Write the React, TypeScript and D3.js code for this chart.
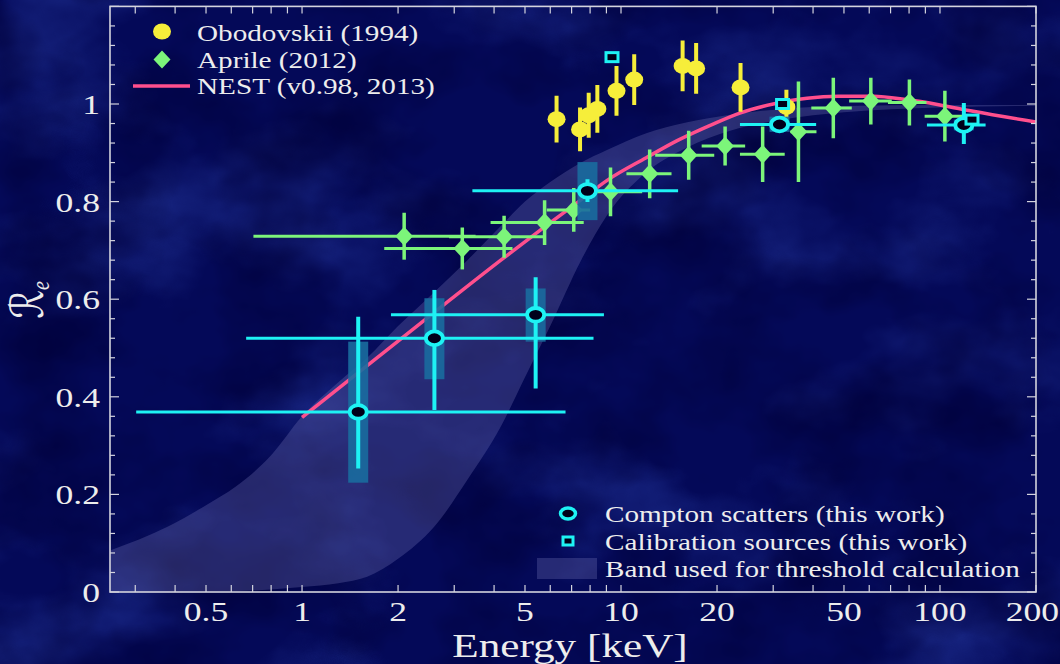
import React from "react";
import * as d3 from "d3";

// ---- Obodovskii (1994): energy [keV], Re, symmetric error ----
const obodovskiiE = [6.28, 7.44, 7.92, 8.43, 9.68, 11.0, 15.6, 17.2, 23.7, 33.0];
const obodovskiiRe = [0.969, 0.948, 0.977, 0.99, 1.027, 1.05, 1.078, 1.073, 1.034, 0.994];
const obodovskiiErr = [0.048, 0.045, 0.046, 0.049, 0.051, 0.052, 0.052, 0.052, 0.05, 0.035];

// ---- Aprile (2012): energy, energy range, Re, error ----
const aprileE = [2.09, 3.18, 4.3, 5.76, 7.11, 9.27, 12.3, 16.3, 21.2, 27.8, 36.0, 46.3, 60.7, 80.2, 103.6];
const aprileElo = [0.704, 1.81, 2.89, 3.9, 5.85, 7.8, 10.4, 12.8, 17.9, 23.6, 34.0, 39.5, 51.9, 68.7, 89.5];
const aprileEhi = [3.5, 4.57, 5.73, 7.64, 8.0, 11.65, 14.4, 19.6, 24.5, 32.6, 41.0, 52.9, 70.6, 90.7, 119.6];
const aprileRe = [0.729, 0.704, 0.728, 0.757, 0.783, 0.82, 0.857, 0.895, 0.914, 0.897, 0.943, 0.992, 1.006, 1.003, 0.975];
const aprileErr = [0.048, 0.043, 0.043, 0.046, 0.045, 0.05, 0.05, 0.05, 0.04, 0.057, 0.103, 0.062, 0.048, 0.047, 0.052];

// ---- Compton scatters (this work) ----
const comptonE = [1.5, 2.6, 5.4, 7.85, 31.4, 118.8];
const comptonElo = [0.302, 0.668, 1.9, 3.42, 23.6, 91.0];
const comptonEhi = [6.7, 8.2, 8.84, 15.1, 40.9, 139.0];
const comptonRe = [0.369, 0.52, 0.568, 0.822, 0.958, 0.957];
const comptonStatLo = [0.253, 0.373, 0.417, 0.799, 0.945, 0.918];
const comptonStatHi = [0.564, 0.619, 0.645, 0.846, 0.97, 1.002];
const comptonSysLo = [0.224, 0.436, 0.513, 0.762, 0.943, 0.946];
const comptonSysHi = [0.513, 0.602, 0.622, 0.881, 0.974, 0.968];

// ---- Calibration sources (this work) ----
const calibE = [9.37, 32.1, 126.0];
const calibRe = [1.096, 1.0, 0.968];

// ---- NEST (v0.98, 2013) ----
const nestE = [1.0, 1.6, 2.93, 4.2, 5.76, 7.47, 9.07, 12, 15, 19.6, 23.7, 30, 38.3, 48, 61.7, 78.6, 100, 127, 200];
const nestRe = [0.358, 0.464, 0.6, 0.68, 0.748, 0.803, 0.844, 0.89, 0.925, 0.96, 0.982, 1.0, 1.012, 1.016, 1.016, 1.009, 0.998, 0.985, 0.963];

// ---- Band used for threshold calculation ----
const bandE = [0.25, 0.38, 0.5, 0.62, 0.8, 1.0, 1.3, 1.6, 2.0, 2.6, 3.3, 4.2, 5.0, 6.0, 7.5, 9.0, 12, 16, 22, 32, 50, 100, 200];
const bandLow = [0, 0, 0.001, 0.002, 0.005, 0.01, 0.018, 0.031, 0.068, 0.134, 0.23, 0.339, 0.44, 0.545, 0.68, 0.77, 0.86, 0.91, 0.945, 0.968, 0.983, 0.993, 0.996];
const bandHigh = [0.085, 0.134, 0.178, 0.216, 0.28, 0.36, 0.43, 0.48, 0.545, 0.615, 0.68, 0.75, 0.8, 0.84, 0.88, 0.905, 0.94, 0.962, 0.978, 0.99, 0.996, 0.998, 0.998];

// ---- Axis ticks ----
const xTickLabels = [0.5, 1, 2, 5, 10, 20, 50, 100, 200];
const xMinorTicks = [0.3, 0.4, 0.6, 0.7, 0.8, 0.9, 3, 4, 6, 7, 8, 9, 30, 40, 60, 70, 80, 90];
const yTickLabels = [0, 0.2, 0.4, 0.6, 0.8, 1];

const W = 1060;
const H = 664;
const L = 110;
const R = 1036;
const T = 6.4;
const B = 592;
const SX = 1.27; // horizontal text stretch

const YELLOW = "#f6ee3a";
const GREEN = "#7cf57a";
const CYAN = "#1ef2f4";
const PINK = "#ff4f8d";
const TEXT = "#ededed";
const FRAME = "#d4d4de";
const BAND = "rgb(130,128,195)";
const SERIF = "'Liberation Serif','Times New Roman',serif";

function SText(props: any) {
  const { x, y, size, anchor = "start", children } = props;
  return (
    <text
      transform={`translate(${x},${y}) scale(${SX},1)`}
      textAnchor={anchor}
      fontSize={size}
      fill={TEXT}
      fontFamily={SERIF}
    >
      {children}
    </text>
  );
}

function diamondPath(cx: number, cy: number, hw = 8.8, hh = 9.5) {
  return `M${cx},${cy - hh}L${cx + hw},${cy}L${cx},${cy + hh}L${cx - hw},${cy}Z`;
}

export default function App() {
  const x = d3.scaleLog().domain([0.25, 200]).range([L, R]);
  const y = d3.scaleLinear().domain([0, 1.2]).range([B, T]);

  const band = d3
    .area<number>()
    .x((_, i) => x(bandE[i]))
    .y0((_, i) => y(bandLow[i]))
    .y1((_, i) => y(bandHigh[i]))
    .curve(d3.curveMonotoneX)(bandE);

  const nest = d3
    .line<number>()
    .x((_, i) => x(nestE[i]))
    .y((_, i) => y(nestRe[i]))
    .curve(d3.curveMonotoneX)(nestE);

  const yTicks = d3.range(0, 31).map((k) => k * 0.04);

  return (
    <svg
      width={W}
      height={H}
      style={{ position: "absolute", left: 0, top: 0, display: "block" }}
    >
      <defs>
        <filter id="clouds" x="0" y="0" width="100%" height="100%">
          <feTurbulence type="fractalNoise" baseFrequency="0.005 0.007" numOctaves={5} seed={11} />
          <feColorMatrix
            type="matrix"
            values="0 0 0 0 0.04  0 0 0 0 0.09  0 0 0 0 0.58  1.0 0 0 0 -0.5"
          />
        </filter>
        <filter id="shade" x="0" y="0" width="100%" height="100%">
          <feTurbulence type="fractalNoise" baseFrequency="0.009 0.011" numOctaves={4} seed={3} />
          <feColorMatrix
            type="matrix"
            values="0 0 0 0 0  0 0 0 0 0  0 0 0 0 0.04  0 1.6 0 0 -0.62"
          />
        </filter>
        <clipPath id="plotClip">
          <rect x={L} y={T} width={R - L} height={B - T} />
        </clipPath>
      </defs>

      {/* background */}
      <rect x={0} y={0} width={W} height={H} fill="#040958" />
      <rect x={0} y={0} width={W} height={H} filter="url(#clouds)" />
      <rect x={0} y={0} width={W} height={H} filter="url(#shade)" />

      <g clipPath="url(#plotClip)">
        {/* threshold band */}
        <path d={band || ""} fill={BAND} fillOpacity={0.28} />

        {/* NEST model */}
        <path d={nest || ""} fill="none" stroke={PINK} strokeWidth={3.5} />

        {/* Obodovskii */}
        {obodovskiiE.map((e, i) => (
          <g key={`ob${i}`}>
            <line
              x1={x(e)}
              x2={x(e)}
              y1={y(obodovskiiRe[i] - obodovskiiErr[i])}
              y2={y(obodovskiiRe[i] + obodovskiiErr[i])}
              stroke={YELLOW}
              strokeWidth={4}
            />
            <ellipse cx={x(e)} cy={y(obodovskiiRe[i])} rx={9} ry={8} fill={YELLOW} />
          </g>
        ))}

        {/* Aprile */}
        {aprileE.map((e, i) => (
          <g key={`ap${i}`}>
            <line
              x1={x(aprileElo[i])}
              x2={x(aprileEhi[i])}
              y1={y(aprileRe[i])}
              y2={y(aprileRe[i])}
              stroke={GREEN}
              strokeWidth={3}
            />
            <line
              x1={x(e)}
              x2={x(e)}
              y1={y(aprileRe[i] - aprileErr[i])}
              y2={y(aprileRe[i] + aprileErr[i])}
              stroke={GREEN}
              strokeWidth={3.5}
            />
            <path d={diamondPath(x(e), y(aprileRe[i]))} fill={GREEN} />
          </g>
        ))}

        {/* systematic boxes */}
        {comptonE.map((e, i) => (
          <rect
            key={`sys${i}`}
            x={x(e) - 10}
            y={y(comptonSysHi[i])}
            width={20}
            height={y(comptonSysLo[i]) - y(comptonSysHi[i])}
            fill="#1a6c9e"
            fillOpacity={0.9}
          />
        ))}

        {/* Compton error bars */}
        {comptonE.map((e, i) => (
          <g key={`cb${i}`}>
            <line
              x1={x(comptonElo[i])}
              x2={x(comptonEhi[i])}
              y1={y(comptonRe[i])}
              y2={y(comptonRe[i])}
              stroke={CYAN}
              strokeWidth={3}
            />
            <line
              x1={x(e)}
              x2={x(e)}
              y1={y(comptonStatLo[i])}
              y2={y(comptonStatHi[i])}
              stroke={CYAN}
              strokeWidth={4}
            />
          </g>
        ))}

        {/* Compton markers */}
        {comptonE.map((e, i) => (
          <ellipse
            key={`cm${i}`}
            cx={x(e)}
            cy={y(comptonRe[i])}
            rx={8.5}
            ry={6.8}
            fill="#00001a"
            stroke={CYAN}
            strokeWidth={3.8}
          />
        ))}

        {/* calibration sources */}
        {calibE.map((e, i) => (
          <rect
            key={`cal${i}`}
            x={x(e) - 6}
            y={y(calibRe[i]) - 4.5}
            width={12}
            height={9}
            fill="#00001a"
            stroke={CYAN}
            strokeWidth={3}
          />
        ))}
      </g>

      {/* frame */}
      <rect x={L} y={T} width={R - L} height={B - T} fill="none" stroke={FRAME} strokeWidth={1.6} />

      {/* y ticks */}
      {yTicks.map((v, k) => {
        const len = k % 5 === 0 ? 9 : 5;
        return (
          <g key={`yt${k}`} stroke={FRAME} strokeWidth={1.2}>
            <line x1={L} x2={L + len} y1={y(v)} y2={y(v)} />
            <line x1={R} x2={R - len} y1={y(v)} y2={y(v)} />
          </g>
        );
      })}

      {/* x ticks */}
      {[...xTickLabels, ...xMinorTicks].map((v, k) => (
        <g key={`xt${k}`} stroke={FRAME} strokeWidth={1.2}>
          <line x1={x(v)} x2={x(v)} y1={B} y2={B - 7} />
          <line x1={x(v)} x2={x(v)} y1={T} y2={T + 7} />
        </g>
      ))}

      {/* tick labels */}
      {xTickLabels.map((v, k) => {
        const last = k === xTickLabels.length - 1;
        return (
          <SText
            key={`xl${v}`}
            x={last ? 1059 : x(v)}
            y={621}
            size={28}
            anchor={last ? "end" : "middle"}
          >
            {String(v)}
          </SText>
        );
      })}
      {yTickLabels.map((v) => (
        <SText key={`yl${v}`} x={100} y={y(v) + 10} size={28} anchor="end">
          {String(v)}
        </SText>
      ))}

      {/* axis titles */}
      <SText x={570} y={657} size={34} anchor="middle">
        Energy [keV]
      </SText>
      <text
        transform={`translate(43,300) scale(${SX},1) rotate(-90)`}
        textAnchor="middle"
        fontSize={36}
        fill={TEXT}
        fontFamily="'DejaVu Serif','DejaVu Sans',serif"
      >
        ℛ
        <tspan fontSize={20} fontStyle="italic" dy={5} fontFamily={SERIF}>
          e
        </tspan>
      </text>

      {/* upper legend */}
      <ellipse cx={162} cy={31.5} rx={9} ry={8} fill={YELLOW} />
      <path d={diamondPath(162, 59.5, 8.5, 9)} fill={GREEN} />
      <line x1={133} x2={190} y1={86} y2={86} stroke={PINK} strokeWidth={3.5} />
      <SText x={197} y={41} size={23}>Obodovskii (1994)</SText>
      <SText x={197} y={67.5} size={23}>Aprile (2012)</SText>
      <SText x={197} y={94} size={23}>NEST (v0.98, 2013)</SText>

      {/* lower legend */}
      <ellipse cx={568} cy={513.5} rx={7.5} ry={5.5} fill="#00001a" stroke={CYAN} strokeWidth={3.5} />
      <rect x={563} y={537} width={10} height={8} fill="#00001a" stroke={CYAN} strokeWidth={3} />
      <rect x={537} y={558} width={60} height={21} fill={BAND} fillOpacity={0.28} />
      <SText x={605} y={522} size={23}>Compton scatters (this work)</SText>
      <SText x={605} y={549.5} size={23}>Calibration sources (this work)</SText>
      <SText x={605} y={577} size={23}>Band used for threshold calculation</SText>
    </svg>
  );
}
